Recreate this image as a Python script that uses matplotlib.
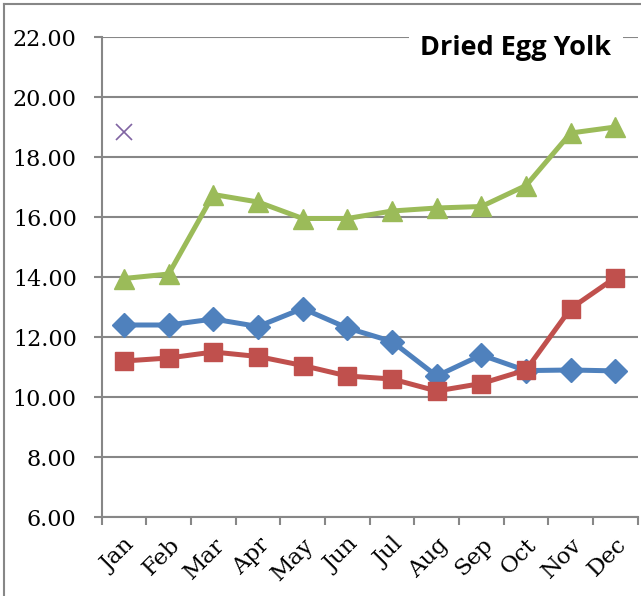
import matplotlib.pyplot as plt
from matplotlib.lines import Line2D

months = ['Jan', 'Feb', 'Mar', 'Apr', 'May', 'Jun',
          'Jul', 'Aug', 'Sep', 'Oct', 'Nov', 'Dec']
blue_vals = [12.4, 12.4, 12.6, 12.35, 12.95, 12.3, 11.85, 10.7, 11.4, 10.88, 10.9, 10.87]
red_vals = [11.2, 11.3, 11.5, 11.35, 11.05, 10.7, 10.6, 10.2, 10.45, 10.9, 12.95, 13.98]
green_vals = [13.95, 14.1, 16.75, 16.5, 15.95, 15.95, 16.2, 16.3, 16.35, 17.05, 18.8, 19.0]
purple_vals = [18.85]
yticks = [6, 8, 10, 12, 14, 16, 18, 20, 22]
title = 'Dried Egg Yolk'

W, H = 641, 596
fig = plt.figure(figsize=(W / 100, H / 100), dpi=100)
ax = fig.add_axes([101.7 / W, 1 - 517 / H, (637.7 - 101.7) / W, (517 - 37) / H])

grid_c = '#878787'
x = list(range(len(months)))

ax.plot(x, blue_vals, color='#4F81BD', lw=3.6, marker='D', ms=12, zorder=3)
ax.plot(x, red_vals, color='#C0504D', lw=3.6, marker='s', ms=13, zorder=4)
ax.plot(x, green_vals, color='#9BBB59', lw=3.6, marker='^', ms=14, zorder=3)
ax.plot(x[:len(purple_vals)], purple_vals, ls='none', marker='x', ms=11,
        mew=1.2, color='#8064A2', zorder=3)

ax.set_xlim(-0.5, len(months) - 0.5)
ax.set_ylim(6, 22)
ax.set_yticks(yticks)
ax.set_yticklabels([f'{v:.2f}' for v in yticks], family='DejaVu Serif', fontsize=16)
ax.yaxis.grid(True, color=grid_c, lw=1.5)
ax.set_axisbelow(True)

# category ticks sit between the months
ax.set_xticks([i - 0.5 for i in range(len(months) + 1)])
ax.set_xticklabels([])
ax.set_xticks(x, minor=True)
ax.set_xticklabels(months, minor=True, rotation=45, ha='right', va='top',
                   rotation_mode='anchor', family='DejaVu Serif', fontsize=16.5)
ax.tick_params(axis='x', which='minor', length=0, pad=12)
ax.tick_params(axis='x', which='major', length=6, width=1.5, color=grid_c)
ax.tick_params(axis='y', length=6, width=1.5, color=grid_c, pad=12)

for s in ['top', 'right']:
    ax.spines[s].set_visible(False)
for s in ['left', 'bottom']:
    ax.spines[s].set_color(grid_c)
    ax.spines[s].set_linewidth(1.5)

fig.text(516 / W, 1 - 48 / H, title, ha='center', va='center',
         family='Open Sans', fontweight='bold', fontsize=19.5,
         bbox=dict(facecolor='white', edgecolor='none', pad=8))

# outer frame of the chart area
fig.add_artist(Line2D([4 / W, 1], [1 - 4 / H, 1 - 4 / H], color=grid_c, lw=1.5))
fig.add_artist(Line2D([4 / W, 4 / W], [0, 1 - 4 / H], color=grid_c, lw=1.5))

fig.savefig('out.png', dpi=100)
